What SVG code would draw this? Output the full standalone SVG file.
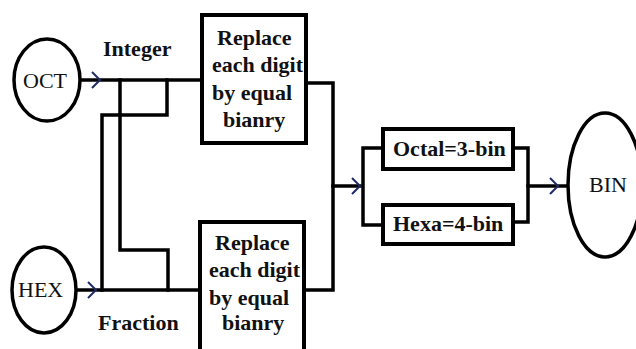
<svg xmlns="http://www.w3.org/2000/svg" width="636" height="349" viewBox="0 0 636 349">
<style>
.bg{fill:#fff}
.node{fill:#fff;stroke:#000;stroke-width:4}
.ell{fill:#fff;stroke:#000;stroke-width:3.5}
.wire{fill:none;stroke:#000;stroke-width:3.5;stroke-linecap:square}
.chev{fill:none;stroke:#1e2a66;stroke-width:2}
.b{font-family:"Liberation Serif","Times New Roman",serif;font-weight:bold;font-size:22px;fill:#111}
.r{font-family:"Liberation Serif","Times New Roman",serif;font-size:22px;fill:#111}
</style>
<defs>
<path id="chev" class="chev" d="M-8,-8 L0,0 L-8,8"/>
</defs>
<rect class="bg" x="0" y="0" width="636" height="349"/>
<g id="connectors">
<path class="wire" d="M80,80 H200"/>
<path class="wire" d="M120,80 V250 H168 V290"/>
<path class="wire" d="M102,290 V115 H167 V80"/>
<path class="wire" d="M76,290 H200"/>
<path class="wire" d="M306,83 H333 V290 H304"/>
<path class="wire" d="M333,186 H360"/>
<path class="wire" d="M383,148 H363 V225 H383"/>
<path class="wire" d="M513,148 H528 V222 H513"/>
<path class="wire" d="M528,186 H568"/>
<use href="#chev" x="100" y="80"/>
<use href="#chev" x="96" y="290"/>
<use href="#chev" x="360" y="186"/>
<use href="#chev" x="558" y="186"/>
</g>
<g id="label-integer"><text class="b" x="103" y="56">Integer</text></g>
<g id="label-fraction"><text class="b" x="98" y="330">Fraction</text></g>
<g id="oct">
<ellipse class="ell" cx="47" cy="80" rx="33" ry="41"/>
<text class="r" x="23" y="88">OCT</text>
</g>
<g id="hex">
<ellipse class="ell" cx="44" cy="290" rx="32" ry="43"/>
<text class="r" x="18" y="297">HEX</text>
</g>
<g id="replace-integer">
<rect class="node" x="202" y="15" width="104" height="128"/>
<text class="b" x="217" y="45">Replace</text>
<text class="b" x="212" y="72">each digit</text>
<text class="b" x="212" y="100">by equal</text>
<text class="b" x="223" y="127">bianry</text>
</g>
<g id="replace-fraction">
<rect class="node" x="200" y="222" width="104" height="140"/>
<text class="b" x="215" y="250">Replace</text>
<text class="b" x="209" y="277">each digit</text>
<text class="b" x="209" y="305">by equal</text>
<text class="b" x="222" y="330">bianry</text>
</g>
<g id="octal">
<rect class="node" x="383" y="129" width="130" height="40"/>
<text class="b" x="393" y="156">Octal=3-bin</text>
</g>
<g id="hexa">
<rect class="node" x="383" y="205" width="130" height="39"/>
<text class="b" x="393" y="231">Hexa=4-bin</text>
</g>
<g id="bin">
<ellipse class="ell" cx="605" cy="185" rx="37" ry="72"/>
<text class="r" x="589" y="192">BIN</text>
</g>
</svg>
